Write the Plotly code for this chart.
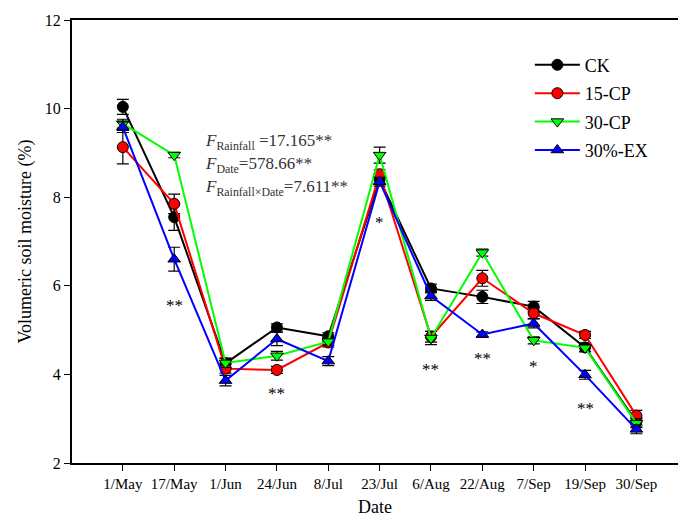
import plotly.graph_objects as go

dates = ["1/May", "17/May", "1/Jun", "24/Jun", "8/Jul", "23/Jul", "6/Aug", "22/Aug", "7/Sep", "19/Sep", "30/Sep"]

ck = [10.04, 7.55, 4.25, 5.06, 4.86, 8.40, 5.94, 5.75, 5.53, 4.61, 2.93]
cp15 = [9.13, 7.85, 4.13, 4.10, 4.72, 8.52, 4.85, 6.17, 5.38, 4.89, 3.07]
cp30 = [9.66, 8.95, 4.26, 4.42, 4.74, 8.95, 4.82, 6.75, 4.77, 4.60, 2.90]
ex30 = [9.58, 6.60, 3.86, 4.80, 4.30, 8.35, 5.77, 4.90, 5.15, 3.99, 2.76]

ck_err = [0.17, 0.30, 0.12, 0.08, 0.08, 0.10, 0.10, 0.15, 0.12, 0.10, 0.10]
cp15_err = [0.38, 0.22, 0.10, 0.08, 0.10, 0.10, 0.12, 0.18, 0.12, 0.08, 0.12]
cp30_err = [0.10, 0.06, 0.10, 0.10, 0.08, 0.18, 0.15, 0.08, 0.08, 0.08, 0.10]
ex30_err = [0.12, 0.27, 0.12, 0.15, 0.10, 0.10, 0.10, 0.06, 0.10, 0.10, 0.10]

series_names = ["CK", "15-CP", "30-CP", "30%-EX"]
series_values = [ck, cp15, cp30, ex30]
series_errors = [ck_err, cp15_err, cp30_err, ex30_err]
series_colors = ["#000000", "#ff0000", "#00ff00", "#0000ff"]
series_fill = ["#000000", "#ff0000", "#00ff00", "#0000ff"]
series_symbols = ["circle", "circle", "triangle-down", "triangle-up"]

sig_dates = ["17/May", "24/Jun", "23/Jul", "6/Aug", "22/Aug", "7/Sep", "19/Sep"]
sig_labels = ["**", "**", "*", "**", "**", "*", "**"]
sig_y = [5.67, 3.69, 7.55, 4.22, 4.47, 4.29, 3.34]

stat_lines = [
    "<i>F</i><sub>Rainfall</sub> =17.165**",
    "<i>F</i><sub>Date</sub>=578.66**",
    "<i>F</i><sub>Rainfall×Date</sub>=7.611**",
]

FONT = "Liberation Serif, Times New Roman, serif"

fig = go.Figure()
xidx = list(range(len(dates)))
for name, vals, errs, col, fill, sym in zip(series_names, series_values, series_errors,
                                            series_colors, series_fill, series_symbols):
    fig.add_trace(go.Scatter(
        x=xidx, y=vals, name=name, mode="lines+markers",
        legendgroup=name,
        line=dict(color=col, width=2),
        marker=dict(symbol=sym, size=11, color=fill, line=dict(color="#000000", width=1)),
        error_y=dict(type="data", array=errs, visible=True, color="#000000",
                     thickness=1.2, width=6),
    ))

for d, lab, yv in zip(sig_dates, sig_labels, sig_y):
    fig.add_annotation(x=dates.index(d), y=yv, text=lab, showarrow=False,
                       xref="x", yref="y", yanchor="middle", yshift=-5,
                       font=dict(family=FONT, size=17, color="#000000"))

for i, t in enumerate(stat_lines):
    fig.add_annotation(x=0.216, y=0.725 - i * 0.052, xref="paper", yref="paper",
                       text=t, showarrow=False, xanchor="left", yanchor="middle",
                       font=dict(family=FONT, size=17, color="#333333"))

fig.update_layout(
    width=678, height=522,
    margin=dict(l=72, r=0, t=20, b=59),
    plot_bgcolor="white", paper_bgcolor="white",
    font=dict(family=FONT, size=15, color="#000000"),
    showlegend=True,
    legend=dict(x=0.7555, y=0.94, xanchor="left", yanchor="top",
                font=dict(family=FONT, size=18, color="#000000"),
                itemwidth=45,
                bgcolor="rgba(0,0,0,0)", tracegroupgap=2),
    xaxis=dict(
        range=[-0.99, 10.81], tickmode="array", tickvals=xidx, ticktext=dates,
        showgrid=False, zeroline=False, showline=True, linecolor="#000000", linewidth=2,
        mirror=True, ticks="outside", ticklen=6, tickwidth=1, tickcolor="#000000",
        tickfont=dict(family=FONT, size=15),
        title=dict(text="Date", font=dict(family=FONT, size=18), standoff=9),
    ),
    yaxis=dict(
        range=[2, 12], tickmode="array", tickvals=[2, 4, 6, 8, 10, 12],
        showgrid=False, zeroline=False, showline=True, linecolor="#000000", linewidth=2,
        ticks="outside", ticklen=6, tickwidth=1, tickcolor="#000000",
        tickfont=dict(family=FONT, size=16),
        title=dict(text="Volumeric soil moisture (%)", font=dict(family=FONT, size=18), standoff=8),
    ),
)

fig.write_html("out.html")
